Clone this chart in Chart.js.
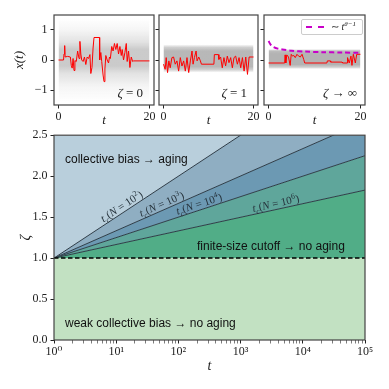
<!DOCTYPE html>
<html>
<head>
<meta charset="utf-8">
<script src="https://cdn.jsdelivr.net/npm/chart.js@4/dist/chart.umd.min.js"></script>
<style>
  body{margin:0;background:#fff}
  #wrap{position:relative;width:389px;height:389px;overflow:hidden}
  canvas{position:absolute}
  #powLegend{position:absolute;left:301px;top:19px;width:60px;height:14px;border:1px solid #ccc;border-radius:2px;
    background:rgba(255,255,255,0.85);font:10px "Liberation Serif",serif;color:#222;white-space:nowrap}
  #powLegend .dash{position:absolute;left:4px;top:6px;width:18px;height:0;border-top:2px dashed #c800c8}
  #powLegend .txt{position:absolute;left:29px;top:1px;line-height:12px}
  #powLegend sup{font-size:7px;font-style:italic;vertical-align:4px;line-height:0}
</style>
</head>
<body>
<div id="wrap">
  <canvas id="p0" width="158" height="128" style="left:0;top:0"></canvas>
  <canvas id="p1" width="109" height="128" style="left:154px;top:0"></canvas>
  <canvas id="p2" width="130" height="128" style="left:259px;top:0"></canvas>
  <canvas id="main" width="389" height="264" style="left:0;top:125px"></canvas>
  <div id="powLegend"><span class="dash"></span><span class="txt">∼ <i>t</i><sup>θ−1</sup></span></div>
</div>
<script>
// ===== Data: top panels (sample trajectories) =====
const trajT0 = [0,1.1,1.2,1.35,1.45,2.0,2.6,2.8,3.0,3.2,3.4,3.6,3.9,4.2,4.5,4.7,4.9,5.1,5.4,5.7,6.0,6.3,6.6,6.9,7.1,7.35,7.6,7.8,9.0,9.05,9.3,9.5,9.8,10.0,10.2,10.4,10.7,11.0,11.2,11.4,11.7,12.0,12.3,12.6,12.9,13.2,13.5,13.8,14.0,14.3,14.6,14.9,15.1,15.4,15.7,16.0,16.3,16.5,20];
const trajX0 = [0,0,0.2,0.48,0.1,0.12,0.1,-0.18,-0.27,0.05,-0.35,-0.02,-0.05,0.3,0.05,0.62,0.2,0.0,-0.05,0.1,-0.15,0.1,0.05,0.18,-0.45,-0.25,0.4,0.75,0.75,0.0,0.25,-0.05,-0.5,-0.72,-0.3,0.15,0.0,-0.1,0.1,0.05,0.45,0.3,0.55,0.35,0.55,0.2,0.45,0.15,0.35,0.0,0.25,0.55,-0.05,0.3,-0.25,0.1,-0.05,-0.03,-0.03];

const trajT1 = [0,0.37,0.6,0.9,1.19,1.49,1.87,2.24,2.61,2.99,3.36,3.73,4.1,4.48,4.85,5.22,5.6,5.97,6.34,6.57,6.87,7.24,7.46,7.84,8.2,8.43,11.2,11.3,12.2,12.31,12.69,13.06,13.43,13.8,14.18,14.55,14.93,15.3,15.67,16.04,16.42,16.79,17.16,17.54,17.91,18.28,18.66,19.03,20];
const trajX1 = [-0.14,-0.31,0.08,-0.42,-0.03,-0.26,0.08,0.1,-0.14,-0.03,-0.37,0.08,-0.2,-0.03,-0.37,0.08,-0.42,-0.03,0.3,-0.14,0.08,0.3,-0.03,0.1,-0.03,-0.14,-0.14,0.18,0.18,0.02,0.1,-0.26,0.08,-0.2,0.13,-0.09,0.08,-0.26,0.08,0.13,-0.14,0.08,-0.26,0.08,-0.37,0.1,-0.48,0.1,0.1];

const trajT2 = [0,3.5,3.6,3.75,3.97,4.34,4.7,4.93,5.22,5.51,5.81,6.18,6.54,6.91,7.28,7.65,7.87,12.7,12.8,13.45,13.53,16.0,16.1,17.1,17.2,17.57,17.94,18.16,18.46,18.9,19.19,20];
const trajX2 = [-0.1,-0.1,0.17,-0.1,0.17,0.1,-0.18,0.19,0.13,0.15,0.08,0.19,0.13,0.1,0.19,0.02,-0.1,-0.1,-0.03,-0.03,-0.07,-0.07,-0.1,-0.1,0.08,-0.1,0.13,-0.18,0.19,-0.1,0.19,0.19];

// ensemble band limits
const bandT = [0, 20];
const bandHi = [[1.4,1.4],[0.52,0.52],[0.36,0.36]];
const bandLo = [[-1.4,-1.4],[-0.42,-0.42],[-0.3,-0.3]];

// power-law guide  ~ t^(theta-1)
const powT = [0,0.5,1,2,3,5,8,12,16,20];
const powX = [0.63,0.5,0.44,0.38,0.35,0.31,0.28,0.26,0.25,0.24];

const topXTicks = [0, 20];
const topYTicks = [-1, 0, 1];
const panelTitles = [['ζ',' = 0'],['ζ',' = 1'],['ζ',' → ∞']];

// ===== Data: phase diagram =====
const phaseT = [1, 1e5];
const zetaFloor = [1, 1];
const zetaN6 = [1, 1.83];
const zetaN4 = [1, 2.25];
const zetaN3 = [1, 2.67];
const zetaN2 = [1, 3.5];
const lineLabelExp = ['6', '4', '3', '2'];
const lineLabelT = [3850, 230, 59, 13.8];
const mainYTicks = [0, 0.5, 1, 1.5, 2, 2.5];
const mainXMajor = [1, 10, 100, 1e3, 1e4, 1e5];

// ===== Layout (each top canvas holds one panel) =====
const panelAxisW = [54, 5, 5];      // room left of each plot area
const panelPadR = [4, 5, 24];       // room right of each plot area
const SERIF = '"Liberation Serif", "DejaVu Serif", serif';
const SANS = '"Liberation Sans", "DejaVu Sans", sans-serif';
const INK = '#222';
const NONE = 'rgba(0,0,0,0)';

const pts = (xs, ys) => xs.map((x, i) => ({x, y: ys[i]}));
const fmtMinus = v => String(v).replace('-', '−');
const SUP = {'0':'⁰','1':'¹','2':'²','3':'³','4':'⁴','5':'⁵'};

function richText(ctx, parts, x, y, size, align, color){
  const fontOf = p => `${p.i ? 'italic ' : ''}${(p.sub || p.sup) ? size*0.7 : size}px ${SERIF}`;
  let w = 0;
  parts.forEach(p => { ctx.font = fontOf(p); w += ctx.measureText(p.s).width; });
  let cx = align === 'center' ? x - w/2 : align === 'right' ? x - w : x;
  ctx.fillStyle = color; ctx.textAlign = 'left'; ctx.textBaseline = 'alphabetic';
  parts.forEach(p => {
    ctx.font = fontOf(p);
    const dy = p.sub ? size*0.25 : p.sup ? -size*0.42 : 0;
    ctx.fillText(p.s, cx, y + dy);
    cx += ctx.measureText(p.s).width;
  });
}

const framePlugin = {
  id: 'frame',
  afterDraw(chart){
    const a = chart.chartArea, c = chart.ctx;
    c.save(); c.strokeStyle = '#444'; c.lineWidth = 1.2;
    c.strokeRect(a.left, a.top, a.right - a.left, a.bottom - a.top);
    c.restore();
  }
};

function bandGradient(stops){
  return ctx => {
    const chart = ctx.chart, a = chart.chartArea;
    if (!a) return NONE;
    const y = chart.scales.y;
    const g = chart.ctx.createLinearGradient(0, a.top, 0, a.bottom);
    stops.forEach(([v, al]) => {
      let p = (y.getPixelForValue(v) - a.top) / (a.bottom - a.top);
      p = Math.min(1, Math.max(0, p));
      g.addColorStop(p, `rgba(160,160,160,${al})`);
    });
    return g;
  };
}
const bandStops = [
  [[1.4,0],[1.0,0.1],[0.6,0.3],[0.35,0.55],[-0.2,0.55],[-0.45,0.3],[-0.9,0.1],[-1.4,0]],
  [[0.52,0],[0.42,0.5],[0.3,0.75],[-0.22,0.75],[-0.32,0.5],[-0.42,0]],
  [[0.36,0.1],[0.3,0.7],[0.2,0.8],[-0.15,0.8],[-0.24,0.5],[-0.3,0]]
];

// ===== Top panels =====
function panelChart(idx, tArr, xArr){
  // index 0 is drawn last (on top)
  const datasets = [];
  if (idx === 2) datasets.push({data: pts(powT, powX), borderColor: '#c800c8', borderWidth: 2, borderDash: [5, 3], pointRadius: 0, fill: false, tension: 0.3});
  datasets.push({data: pts(tArr, xArr), borderColor: '#ff0000', borderWidth: 1, pointRadius: 0, fill: false});
  datasets.push({data: pts(bandT, bandHi[idx]), borderColor: NONE, borderWidth: 1, pointRadius: 0, fill: '+1', backgroundColor: bandGradient(bandStops[idx])});
  datasets.push({data: pts(bandT, bandLo[idx]), borderColor: NONE, borderWidth: 1, pointRadius: 0, fill: false});

  const panelText = {
    id: 'panelText',
    afterDraw(chart){
      const a = chart.chartArea, c = chart.ctx;
      const [g, rest] = panelTitles[idx];
      richText(c, [{s: g, i: 1}, {s: rest}], a.right - (idx === 2 ? 8 : 11), a.bottom - 8, 13, 'right', INK);
    }
  };

  return new Chart(document.getElementById('p' + idx), {
    type: 'line',
    data: {datasets},
    options: {
      responsive: false, animation: false, devicePixelRatio: 1,
      layout: {padding: {top: 15, right: panelPadR[idx], bottom: 0, left: 0}},
      plugins: {legend: {display: false}, tooltip: {enabled: false}},
      scales: {
        x: {
          type: 'linear', min: -1, max: 21,
          afterBuildTicks: s => { s.ticks = topXTicks.map(v => ({value: v})); },
          afterFit: s => { s.height = 23; },
          grid: {drawOnChartArea: false, tickLength: 3.5, color: INK},
          border: {display: false},
          ticks: {color: INK, padding: 1, maxRotation: 0, font: {family: SERIF, size: 12}},
          title: {display: true, text: 't', color: INK, font: {family: SERIF, size: 13, style: 'italic'}, padding: {top: 0, bottom: 0}}
        },
        y: {
          min: -1.5, max: 1.5,
          afterBuildTicks: s => { s.ticks = topYTicks.map(v => ({value: v})); },
          afterFit: s => { s.width = panelAxisW[idx]; },
          grid: {drawOnChartArea: false, tickLength: 3.5, color: INK},
          border: {display: false},
          ticks: {display: idx === 0, color: INK, padding: 3, font: {family: SERIF, size: 12}, callback: v => fmtMinus(v)},
          title: {display: idx === 0, text: 'x(t)', color: INK, font: {family: SERIF, size: 13, style: 'italic'}, padding: {top: 12, bottom: 12}}
        }
      }
    },
    plugins: [framePlugin, panelText]
  });
}

panelChart(0, trajT0, trajX0);
panelChart(1, trajT1, trajX1);
panelChart(2, trajT2, trajX2);

// ===== Phase diagram =====
const LINE = '#2f3d48';
const lineSets = [zetaN6, zetaN4, zetaN3, zetaN2];

const annot = {
  id: 'annot',
  afterDatasetsDraw(chart){
    const c = chart.ctx, xs = chart.scales.x, ys = chart.scales.y;
    c.save();
    c.fillStyle = '#111'; c.font = `12px ${SANS}`; c.textBaseline = 'middle'; c.textAlign = 'left';
    c.fillText('collective bias → aging', 65, ys.getPixelForValue(2.2));
    c.fillText('finite-size cutoff → no aging', 197, ys.getPixelForValue(1.14));
    c.fillText('weak collective bias → no aging', 65, ys.getPixelForValue(0.2));
    c.restore();

    lineSets.forEach((arr, k) => {
      const x1 = xs.getPixelForValue(phaseT[0]), y1 = ys.getPixelForValue(arr[0]);
      const x2 = xs.getPixelForValue(phaseT[1]), y2 = ys.getPixelForValue(arr[1]);
      const px = xs.getPixelForValue(lineLabelT[k]);
      const py = y1 + (px - x1) * (y2 - y1) / (x2 - x1);
      c.save();
      c.translate(px, py);
      c.rotate(Math.atan2(y2 - y1, x2 - x1));
      richText(c, [{s: 't', i: 1}, {s: 'c', i: 1, sub: 1}, {s: '('}, {s: 'N', i: 1}, {s: ' = 10'}, {s: lineLabelExp[k], sup: 1}, {s: ')'}],
        0, -2.5, 11, 'center', '#26333c');
      c.restore();
    });
  }
};

const minorTicks = [];
for (let d = 1; d < 1e5; d *= 10) for (let m = 1; m < 10; m++) minorTicks.push(d * m);
minorTicks.push(1e5);

new Chart(document.getElementById('main'), {
  type: 'line',
  data: {
    datasets: [
      {data: pts(phaseT, zetaFloor), borderColor: '#000', borderWidth: 1.5, borderDash: [4.5, 2.5], pointRadius: 0, fill: 'origin', backgroundColor: '#c2e1c2'},
      {data: pts(phaseT, zetaN6), borderColor: LINE, borderWidth: 1, pointRadius: 0, fill: '-1', backgroundColor: '#51ad87'},
      {data: pts(phaseT, zetaN4), borderColor: LINE, borderWidth: 1, pointRadius: 0, fill: '-1', backgroundColor: '#5fa69b'},
      {data: pts(phaseT, zetaN3), borderColor: LINE, borderWidth: 1, pointRadius: 0, fill: '-1', backgroundColor: '#6c99b3'},
      {data: pts(phaseT, zetaN2), borderColor: LINE, borderWidth: 1, pointRadius: 0, fill: '-1', backgroundColor: '#8faec2'},
      {data: pts(phaseT, zetaN2), borderColor: NONE, borderWidth: 1, pointRadius: 0, fill: 'end', backgroundColor: '#b9cfdc'}
    ]
  },
  options: {
    responsive: false, animation: false, devicePixelRatio: 1,
    layout: {padding: {top: 8, right: 24, bottom: 0, left: 0}},
    plugins: {legend: {display: false}, tooltip: {enabled: false}},
    scales: {
      x: {
        type: 'logarithmic', min: 1, max: 1e5,
        afterBuildTicks: s => { s.ticks = minorTicks.map(v => ({value: v, major: mainXMajor.includes(v)})); },
        afterFit: s => { s.height = 49; },
        grid: {drawOnChartArea: false, tickLength: 3.5, color: INK,
               tickWidth: ctx => (ctx.tick && mainXMajor.includes(ctx.tick.value)) ? 1 : 0.6},
        border: {display: false},
        ticks: {color: INK, padding: 1, maxRotation: 0, autoSkip: false, font: {family: SERIF, size: 12},
                callback: v => mainXMajor.includes(v) ? '10' + SUP[String(Math.round(Math.log10(v)))] : ''},
        title: {display: true, text: 't', color: INK, font: {family: SERIF, size: 14, style: 'italic'}, padding: {top: 14, bottom: 14}}
      },
      y: {
        min: 0, max: 2.5,
        afterBuildTicks: s => { s.ticks = mainYTicks.map(v => ({value: v})); },
        afterFit: s => { s.width = 54; },
        grid: {drawOnChartArea: false, tickLength: 3.5, color: INK},
        border: {display: false},
        ticks: {color: INK, padding: 3, font: {family: SERIF, size: 12}, callback: v => v.toFixed(1)},
        title: {display: true, text: 'ζ', color: INK, font: {family: SERIF, size: 14, style: 'italic'}, padding: {top: 18, bottom: 18}}
      }
    }
  },
  plugins: [framePlugin, annot]
});
</script>
</body>
</html>
